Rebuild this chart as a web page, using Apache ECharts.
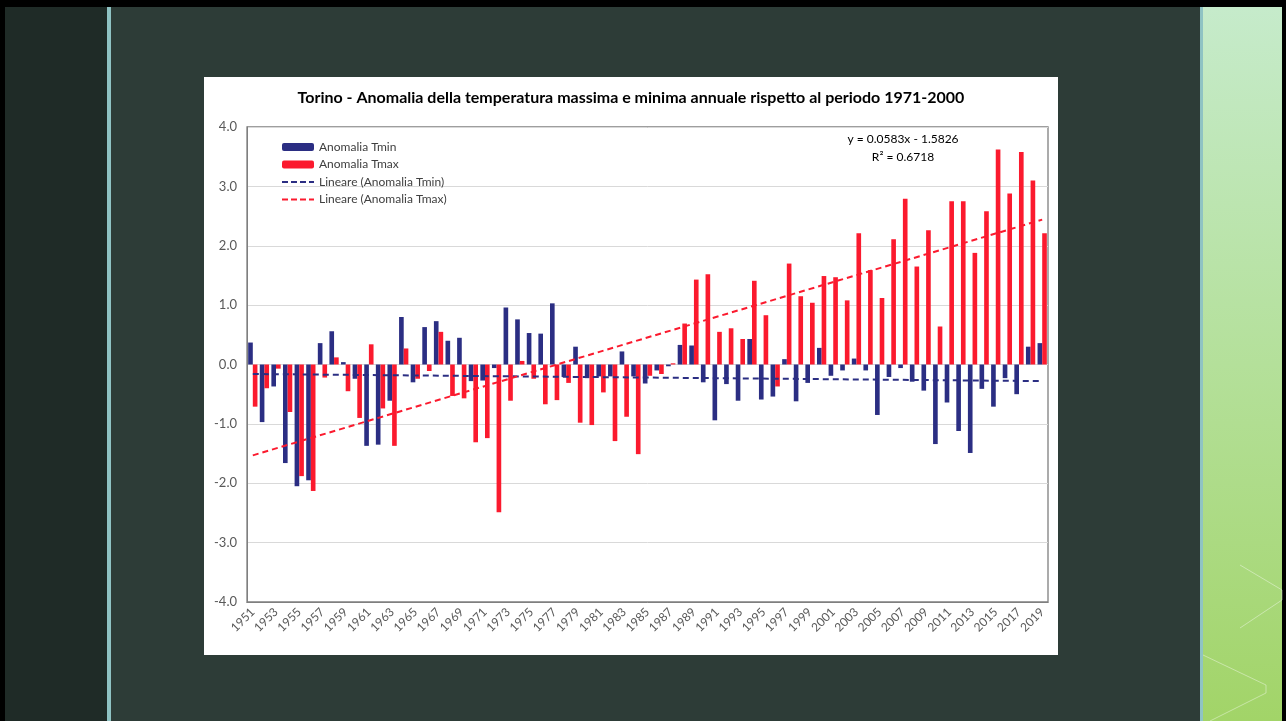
<!DOCTYPE html>
<html>
<head>
<meta charset="utf-8">
<script src="https://cdn.jsdelivr.net/npm/echarts@6/dist/echarts.min.js"></script>
<style>
  html, body { margin: 0; padding: 0; background: #000; }
  #chart { width: 1286px; height: 721px; }
</style>
</head>
<body>
<div id="chart"></div>
<script>
const years = ['1951','1952','1953','1954','1955','1956','1957','1958','1959','1960',
  '1961','1962','1963','1964','1965','1966','1967','1968','1969','1970',
  '1971','1972','1973','1974','1975','1976','1977','1978','1979','1980',
  '1981','1982','1983','1984','1985','1986','1987','1988','1989','1990',
  '1991','1992','1993','1994','1995','1996','1997','1998','1999','2000',
  '2001','2002','2003','2004','2005','2006','2007','2008','2009','2010',
  '2011','2012','2013','2014','2015','2016','2017','2018','2019'];

// anomalia Tmin (°C)
const tmin = [0.37, -0.97, -0.37, -1.66, -2.05, -1.95, 0.36, 0.56, 0.04, -0.24,
  -1.37, -1.35, -0.61, 0.80, -0.30, 0.63, 0.73, 0.40, 0.45, -0.28,
  -0.27, -0.06, 0.96, 0.76, 0.53, 0.52, 1.03, -0.21, 0.30, -0.23,
  -0.20, -0.20, 0.22, -0.20, -0.32, -0.10, -0.03, 0.33, 0.32, -0.30,
  -0.94, -0.33, -0.61, 0.43, -0.59, -0.54, 0.09, -0.62, -0.31, 0.28,
  -0.19, -0.10, 0.10, -0.10, -0.85, -0.21, -0.06, -0.29, -0.44, -1.34,
  -0.64, -1.12, -1.49, -0.41, -0.71, -0.23, -0.50, 0.30, 0.36];

// anomalia Tmax (°C)
const tmax = [-0.71, -0.40, -0.07, -0.80, -1.88, -2.13, -0.22, 0.12, -0.45, -0.90,
  0.34, -0.74, -1.37, 0.27, -0.24, -0.11, 0.55, -0.53, -0.57, -1.31,
  -1.24, -2.49, -0.61, 0.06, -0.24, -0.67, -0.60, -0.31, -0.98, -1.02,
  -0.47, -1.29, -0.88, -1.51, -0.19, -0.16, 0.02, 0.69, 1.43, 1.52,
  0.55, 0.61, 0.43, 1.41, 0.83, -0.37, 1.70, 1.15, 1.04, 1.49,
  1.47, 1.08, 2.21, 1.59, 1.12, 2.11, 2.79, 1.65, 2.26, 0.64,
  2.75, 2.75, 1.88, 2.58, 3.62, 2.88, 3.58, 3.10, 2.21];

// estremi delle linee di tendenza (primo e ultimo anno)
const trendTmin = [-0.16, -0.28];
const trendTmax = [-1.53, 2.44];

const yTicks = [-4, -3, -2, -1, 0, 1, 2, 3, 4];

const BLUE = '#2b2e83';
const RED = '#fb1a2e';
const FONT = 'Lato, "Open Sans", sans-serif';
// icona tratteggiata per la legenda (i punti degeneri tengono l'altezza a 8)
const DASH_ICON = 'path://M0,-3L0.01,-3M0,5L0.01,5M0,0h6v2h-6zM9,0h6v2h-6zM18,0h6v2h-6zM27,0h5v2h-5z';

function trendData(ends) {
  return years.map((y, i) => i === 0 ? ends[0] : (i === years.length - 1 ? ends[1] : null));
}

const chart = echarts.init(document.getElementById('chart'));
chart.setOption({
  animation: false,
  textStyle: { fontFamily: FONT },
  graphic: [
    // sfondo della slide
    { type: 'rect', z: -10, shape: { x: 0, y: 0, width: 1286, height: 721 }, style: { fill: '#000' } },
    { type: 'rect', z: -9, shape: { x: 5, y: 7, width: 102, height: 714 }, style: { fill: '#1f2b27' } },
    { type: 'rect', z: -9, shape: { x: 107, y: 7, width: 4, height: 714 }, style: { fill: '#8fc3c3' } },
    { type: 'rect', z: -9, shape: { x: 111, y: 7, width: 1089, height: 714 }, style: { fill: '#2d3c37' } },
    { type: 'rect', z: -9, shape: { x: 1200, y: 7, width: 3, height: 714 }, style: { fill: '#8fc3c3' } },
    {
      type: 'rect', z: -9, shape: { x: 1203, y: 7, width: 79, height: 714 },
      style: {
        fill: new echarts.graphic.LinearGradient(0, 0, 0, 1, [
          { offset: 0, color: '#c6ebcb' },
          { offset: 0.5, color: '#b4e09a' },
          { offset: 1, color: '#a2d468' }
        ])
      }
    },
    { type: 'polyline', z: -8, shape: { points: [[1240, 565], [1282, 590], [1282, 600], [1240, 628]] }, style: { stroke: 'rgba(255,255,255,0.4)', fill: null, lineWidth: 1 } },
    { type: 'polyline', z: -8, shape: { points: [[1203, 655], [1266, 685], [1266, 693], [1210, 721]] }, style: { stroke: 'rgba(255,255,255,0.4)', fill: null, lineWidth: 1 } },
    // area del grafico
    { type: 'rect', z: -5, shape: { x: 204, y: 77, width: 854, height: 578 }, style: { fill: '#ffffff' } },
    {
      type: 'text', x: 631, y: 90, z: 10,
      style: {
        text: 'Torino - Anomalia della temperatura massima e minima annuale rispetto al periodo 1971-2000',
        font: 'bold 16px ' + FONT, fill: '#000', align: 'center'
      }
    },
    {
      type: 'text', x: 903, y: 133, z: 10,
      style: { text: 'y = 0.0583x - 1.5826', font: '12px ' + FONT, fill: '#000', align: 'center' }
    },
    {
      type: 'text', x: 903, y: 151, z: 10,
      style: { text: 'R² = 0.6718', font: '12px ' + FONT, fill: '#000', align: 'center' }
    }
  ],
  legend: {
    orient: 'vertical',
    left: 277,
    top: 136,
    itemWidth: 32,
    itemHeight: 8,
    itemGap: 5.5,
    textStyle: { fontSize: 12, color: '#404040', fontFamily: FONT },
    data: [
      'Anomalia Tmin',
      'Anomalia Tmax',
      { name: 'Lineare (Anomalia Tmin)', icon: DASH_ICON },
      { name: 'Lineare (Anomalia Tmax)', icon: DASH_ICON }
    ]
  },
  grid: {
    left: 247, top: 127, width: 801, height: 475,
    show: true, borderColor: '#7f7f7f', borderWidth: 1.3, backgroundColor: 'transparent'
  },
  xAxis: {
    type: 'category',
    data: years,
    axisLine: { onZero: false, lineStyle: { color: '#7f7f7f' } },
    axisTick: { show: false },
    axisLabel: { interval: 1, rotate: 45, fontSize: 12, color: '#595959', margin: 8 }
  },
  yAxis: {
    type: 'value',
    min: -4, max: 4, interval: 1,
    axisLine: { show: true, lineStyle: { color: '#7f7f7f' } },
    axisTick: { show: false },
    axisLabel: {
      fontSize: 13, color: '#595959', margin: 10,
      formatter: v => yTicks.includes(v) ? v.toFixed(1) : ''
    },
    splitLine: { lineStyle: { color: '#d9d9d9' } }
  },
  series: [
    {
      name: 'Anomalia Tmin', type: 'bar', data: tmin,
      barWidth: '40%', barGap: '0%',
      itemStyle: { color: BLUE }
    },
    {
      name: 'Anomalia Tmax', type: 'bar', data: tmax,
      barWidth: '40%', barGap: '0%',
      itemStyle: { color: RED }
    },
    {
      name: 'Lineare (Anomalia Tmin)', type: 'line', data: trendData(trendTmin),
      connectNulls: true, symbol: 'none', z: 5,
      itemStyle: { color: BLUE },
      lineStyle: { color: BLUE, width: 2, type: [6, 4] }
    },
    {
      name: 'Lineare (Anomalia Tmax)', type: 'line', data: trendData(trendTmax),
      connectNulls: true, symbol: 'none', z: 5,
      itemStyle: { color: RED },
      lineStyle: { color: RED, width: 2, type: [6, 4] }
    }
  ]
});
</script>
</body>
</html>
